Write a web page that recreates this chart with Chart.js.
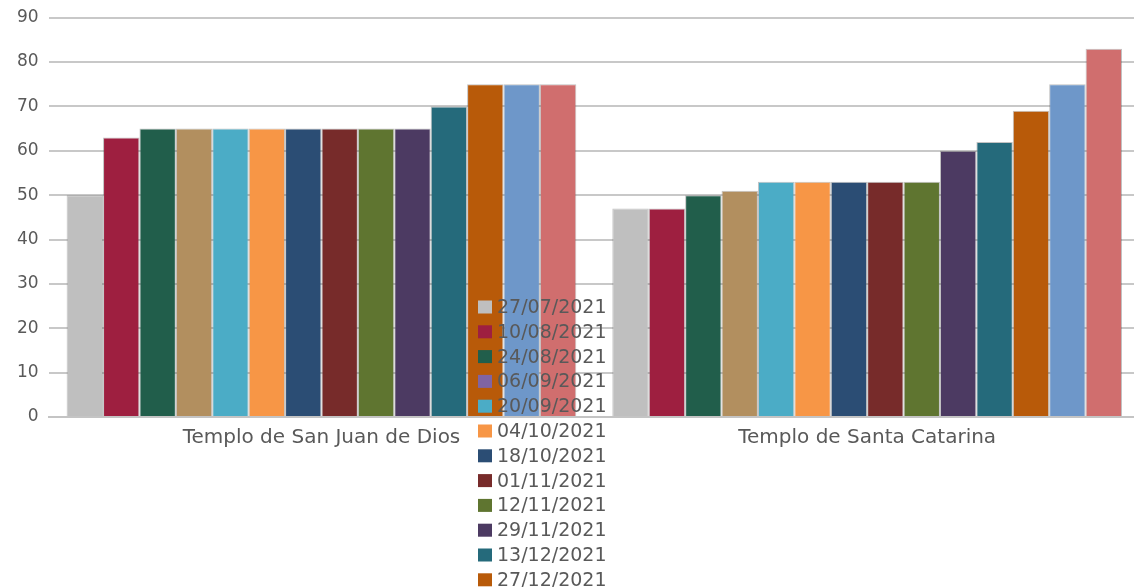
<!DOCTYPE html>
<html>
<head>
<meta charset="utf-8">
<title>Templos</title>
<script src="https://cdn.jsdelivr.net/npm/chart.js@4.4.1/dist/chart.umd.min.js"></script>
<style>
    html, body { margin: 0; padding: 0; background: #ffffff; overflow: hidden; }
    #templeplot { display: block; }
</style>
</head>
<body>
<canvas id="templeplot" width="1142" height="587"></canvas>
<script>
// fechas de medición (una serie por fecha)
var dates = [
    "27/07/2021", "10/08/2021", "24/08/2021", "06/09/2021", "20/09/2021",
    "04/10/2021", "18/10/2021", "01/11/2021", "12/11/2021", "29/11/2021",
    "13/12/2021", "27/12/2021", "10/01/2022", "24/01/2022"
];

var temples = ["Templo de San Juan de Dios", "Templo de Santa Catarina"];

var sanJuanValues = [50, 63, 65, 65, 65, 65, 65, 65, 65, 65, 70, 75, 75, 75];
var santaCatarinaValues = [47, 47, 50, 51, 53, 53, 53, 53, 53, 60, 62, 69, 75, 83];

var yTicks = [0, 10, 20, 30, 40, 50, 60, 70, 80, 90];

var barColors = [
    "#bfbfbf", "#9e1f40", "#215e4b", "#b28f5f", "#4bacc6", "#f79646", "#2b4d74",
    "#772b2a", "#5f7530", "#4c3a62", "#256a7b", "#b85a09", "#6e97c9", "#d06e6e"
];
// the legend swatch of 06/09 keeps the default purple
var legendColors = [
    "#bfbfbf", "#9e1f40", "#215e4b", "#8064a2", "#4bacc6", "#f79646", "#2b4d74",
    "#772b2a", "#5f7530", "#4c3a62", "#256a7b", "#b85a09", "#6e97c9", "#d06e6e"
];

var textColor = "#595959";

// vertical legend drawn over the plot, one row per date
var dateLegend = {
    id: "dateLegend",
    afterDraw: function (chart) {
        var ctx = chart.ctx;
        var x = 478;
        var y = 307;
        var rowHeight = 24.8;
        ctx.save();
        ctx.font = "19px 'DejaVu Sans'";
        ctx.textBaseline = "middle";
        ctx.textAlign = "left";
        for (var i = 0; i < dates.length; i++) {
            var cy = y + i * rowHeight;
            ctx.fillStyle = legendColors[i];
            ctx.fillRect(x, cy - 6.5, 14, 13);
            ctx.fillStyle = textColor;
            ctx.fillText(dates[i], x + 19, cy + 1);
        }
        ctx.restore();
    }
};

function createChart() {
    var datasets = dates.map(function (date, i) {
        return {
            label: date,
            data: [sanJuanValues[i], santaCatarinaValues[i]],
            backgroundColor: barColors[i],
            borderColor: "rgba(80, 80, 80, 0.35)",
            borderWidth: 1,
            categoryPercentage: 0.934,
            barPercentage: 1.0
        };
    });

    var ctx = document.getElementById("templeplot").getContext("2d");
    var myChart = new Chart(ctx, {
        type: "bar",
        data: {
            labels: temples,
            datasets: datasets
        },
        plugins: [dateLegend],
        options: {
            responsive: false,
            animation: false,
            devicePixelRatio: 1,
            layout: {
                padding: { left: 7, right: 2, top: 0, bottom: 128 }
            },
            plugins: {
                legend: { display: false },
                tooltip: { enabled: false }
            },
            scales: {
                x: {
                    grid: { display: false, drawTicks: false },
                    border: { display: true, color: "#c4c4c4", width: 2 },
                    ticks: {
                        color: textColor,
                        padding: 9,
                        font: { family: "'DejaVu Sans'", size: 20 }
                    }
                },
                y: {
                    min: 0,
                    max: 90,
                    afterBuildTicks: function (axis) {
                        axis.ticks = yTicks.map(function (v) { return { value: v }; });
                    },
                    grid: { color: "#c8c8c8", lineWidth: 2, drawTicks: false },
                    border: { display: false },
                    ticks: {
                        color: textColor,
                        padding: 10,
                        font: { family: "'DejaVu Sans'", size: 17, lineHeight: 0.9 }
                    }
                }
            }
        }
    });
}

createChart();
</script>
</body>
</html>
